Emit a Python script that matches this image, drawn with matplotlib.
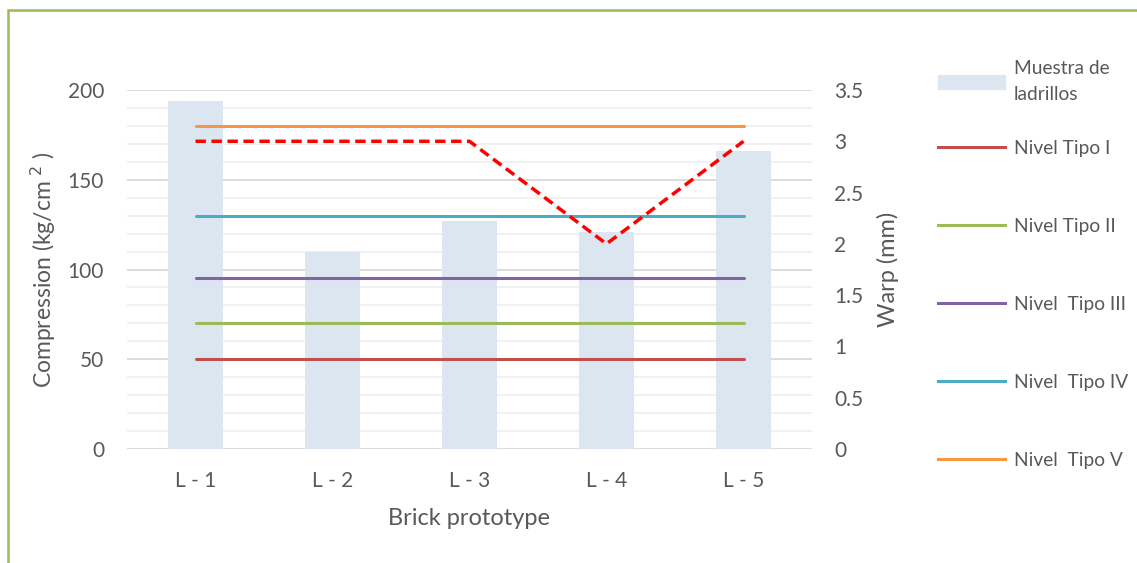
import numpy as np
import matplotlib
matplotlib.use("Agg")
import matplotlib.pyplot as plt
from matplotlib.lines import Line2D
from matplotlib.patches import Patch, Rectangle

plt.rcParams['font.family'] = ['Lato', 'DejaVu Sans']

# datos
prototipos = ['L - 1', 'L - 2', 'L - 3', 'L - 4', 'L - 5']
compresion = [194, 110, 127, 121, 166]
alabeo = [3, 3, 3, 2, 3]
niveles = [50, 70, 95, 130, 180]
nombres_niveles = ['Nivel Tipo I', 'Nivel Tipo II', 'Nivel  Tipo III', 'Nivel  Tipo IV', 'Nivel  Tipo V']
colores_niveles = ['#c0504d', '#9bbb59', '#8064a2', '#4bacc6', '#f79646']

texto = '#595959'

fig = plt.figure(figsize=(11.37, 5.63), dpi=100)
ax = fig.add_axes([127/1137, 1-449/563, (812-127)/1137, (449-90)/563])
x = np.arange(len(prototipos))

# barras de compresion
ax.bar(x, compresion, width=0.4, color='#dce6f1', zorder=2)

# lineas de niveles (mismo valor en todas las muestras)
for nivel, col in zip(niveles, colores_niveles):
    ax.plot(x, [nivel]*len(x), color=col, lw=2.2, zorder=3, solid_capstyle='round')

ax.set_xlim(-0.5, len(x)-0.5)
ax.set_ylim(0, 200)
ax.set_yticks(np.arange(0, 201, 50))
ax.set_yticks(np.arange(0, 201, 10), minor=True)
ax.grid(axis='y', which='major', color='#d9d9d9', lw=1.3, zorder=0)
ax.grid(axis='y', which='minor', color='#f0f0f0', lw=1.3, zorder=0)
for s in ax.spines.values():
    s.set_visible(False)
ax.tick_params(which='both', length=0)
ax.tick_params(axis='y', labelsize=15, labelcolor=texto, pad=16.5)
ax.tick_params(axis='x', labelsize=15, labelcolor=texto, pad=16)
ax.set_xticks(x)
ax.set_xticklabels(prototipos)
ax.set_xlabel('Brick prototype', fontsize=17, color=texto, labelpad=12)
ax.set_ylabel('Compression (kg/cm $^{2}$ )', fontsize=16.5, color=texto, labelpad=7)

# eje derecho: alabeo
ax2 = ax.twinx()
ax2.plot(x, alabeo, color='#ff0000', lw=2.5, ls=(0, (3, 1.6)), zorder=4)
ax2.set_ylim(0, 3.5)
ax2.set_yticks(np.arange(0, 3.51, 0.5))
ax2.set_yticklabels(['0', '0.5', '1', '1.5', '2', '2.5', '3', '3.5'])
for s in ax2.spines.values():
    s.set_visible(False)
ax2.tick_params(length=0, labelsize=15, labelcolor=texto, pad=16)
ax2.set_ylabel('Warp (mm)', fontsize=17, color=texto, labelpad=10)

# leyenda
h_bar = [Patch(color='#dce6f1')]
leg1 = fig.legend(h_bar, ['Muestra de\nladrillos'], loc='upper left', bbox_to_anchor=(938/1137, 1-60/563),
                  frameon=False, fontsize=13.8, handlelength=3.5, handleheight=0.8, labelcolor=texto,
                  borderaxespad=0, borderpad=0, handletextpad=0.47)
leg1.get_texts()[0].set_linespacing(1.65)
h_lin = [Line2D([], [], color=c, lw=2.2) for c in colores_niveles]
fig.legend(h_lin, nombres_niveles, loc='upper left', bbox_to_anchor=(938/1137, 1-140/563),
           frameon=False, fontsize=13.8, handlelength=3.5, labelcolor=texto, labelspacing=3.18,
           borderaxespad=0, borderpad=0, handletextpad=0.47)

# borde verde
fig.add_artist(Rectangle((8/1137, -0.1), 1.2, 1.1-10/563, transform=fig.transFigure,
                         fill=False, edgecolor='#9bbb59', lw=1.8))

fig.savefig('out.png', dpi=100)
